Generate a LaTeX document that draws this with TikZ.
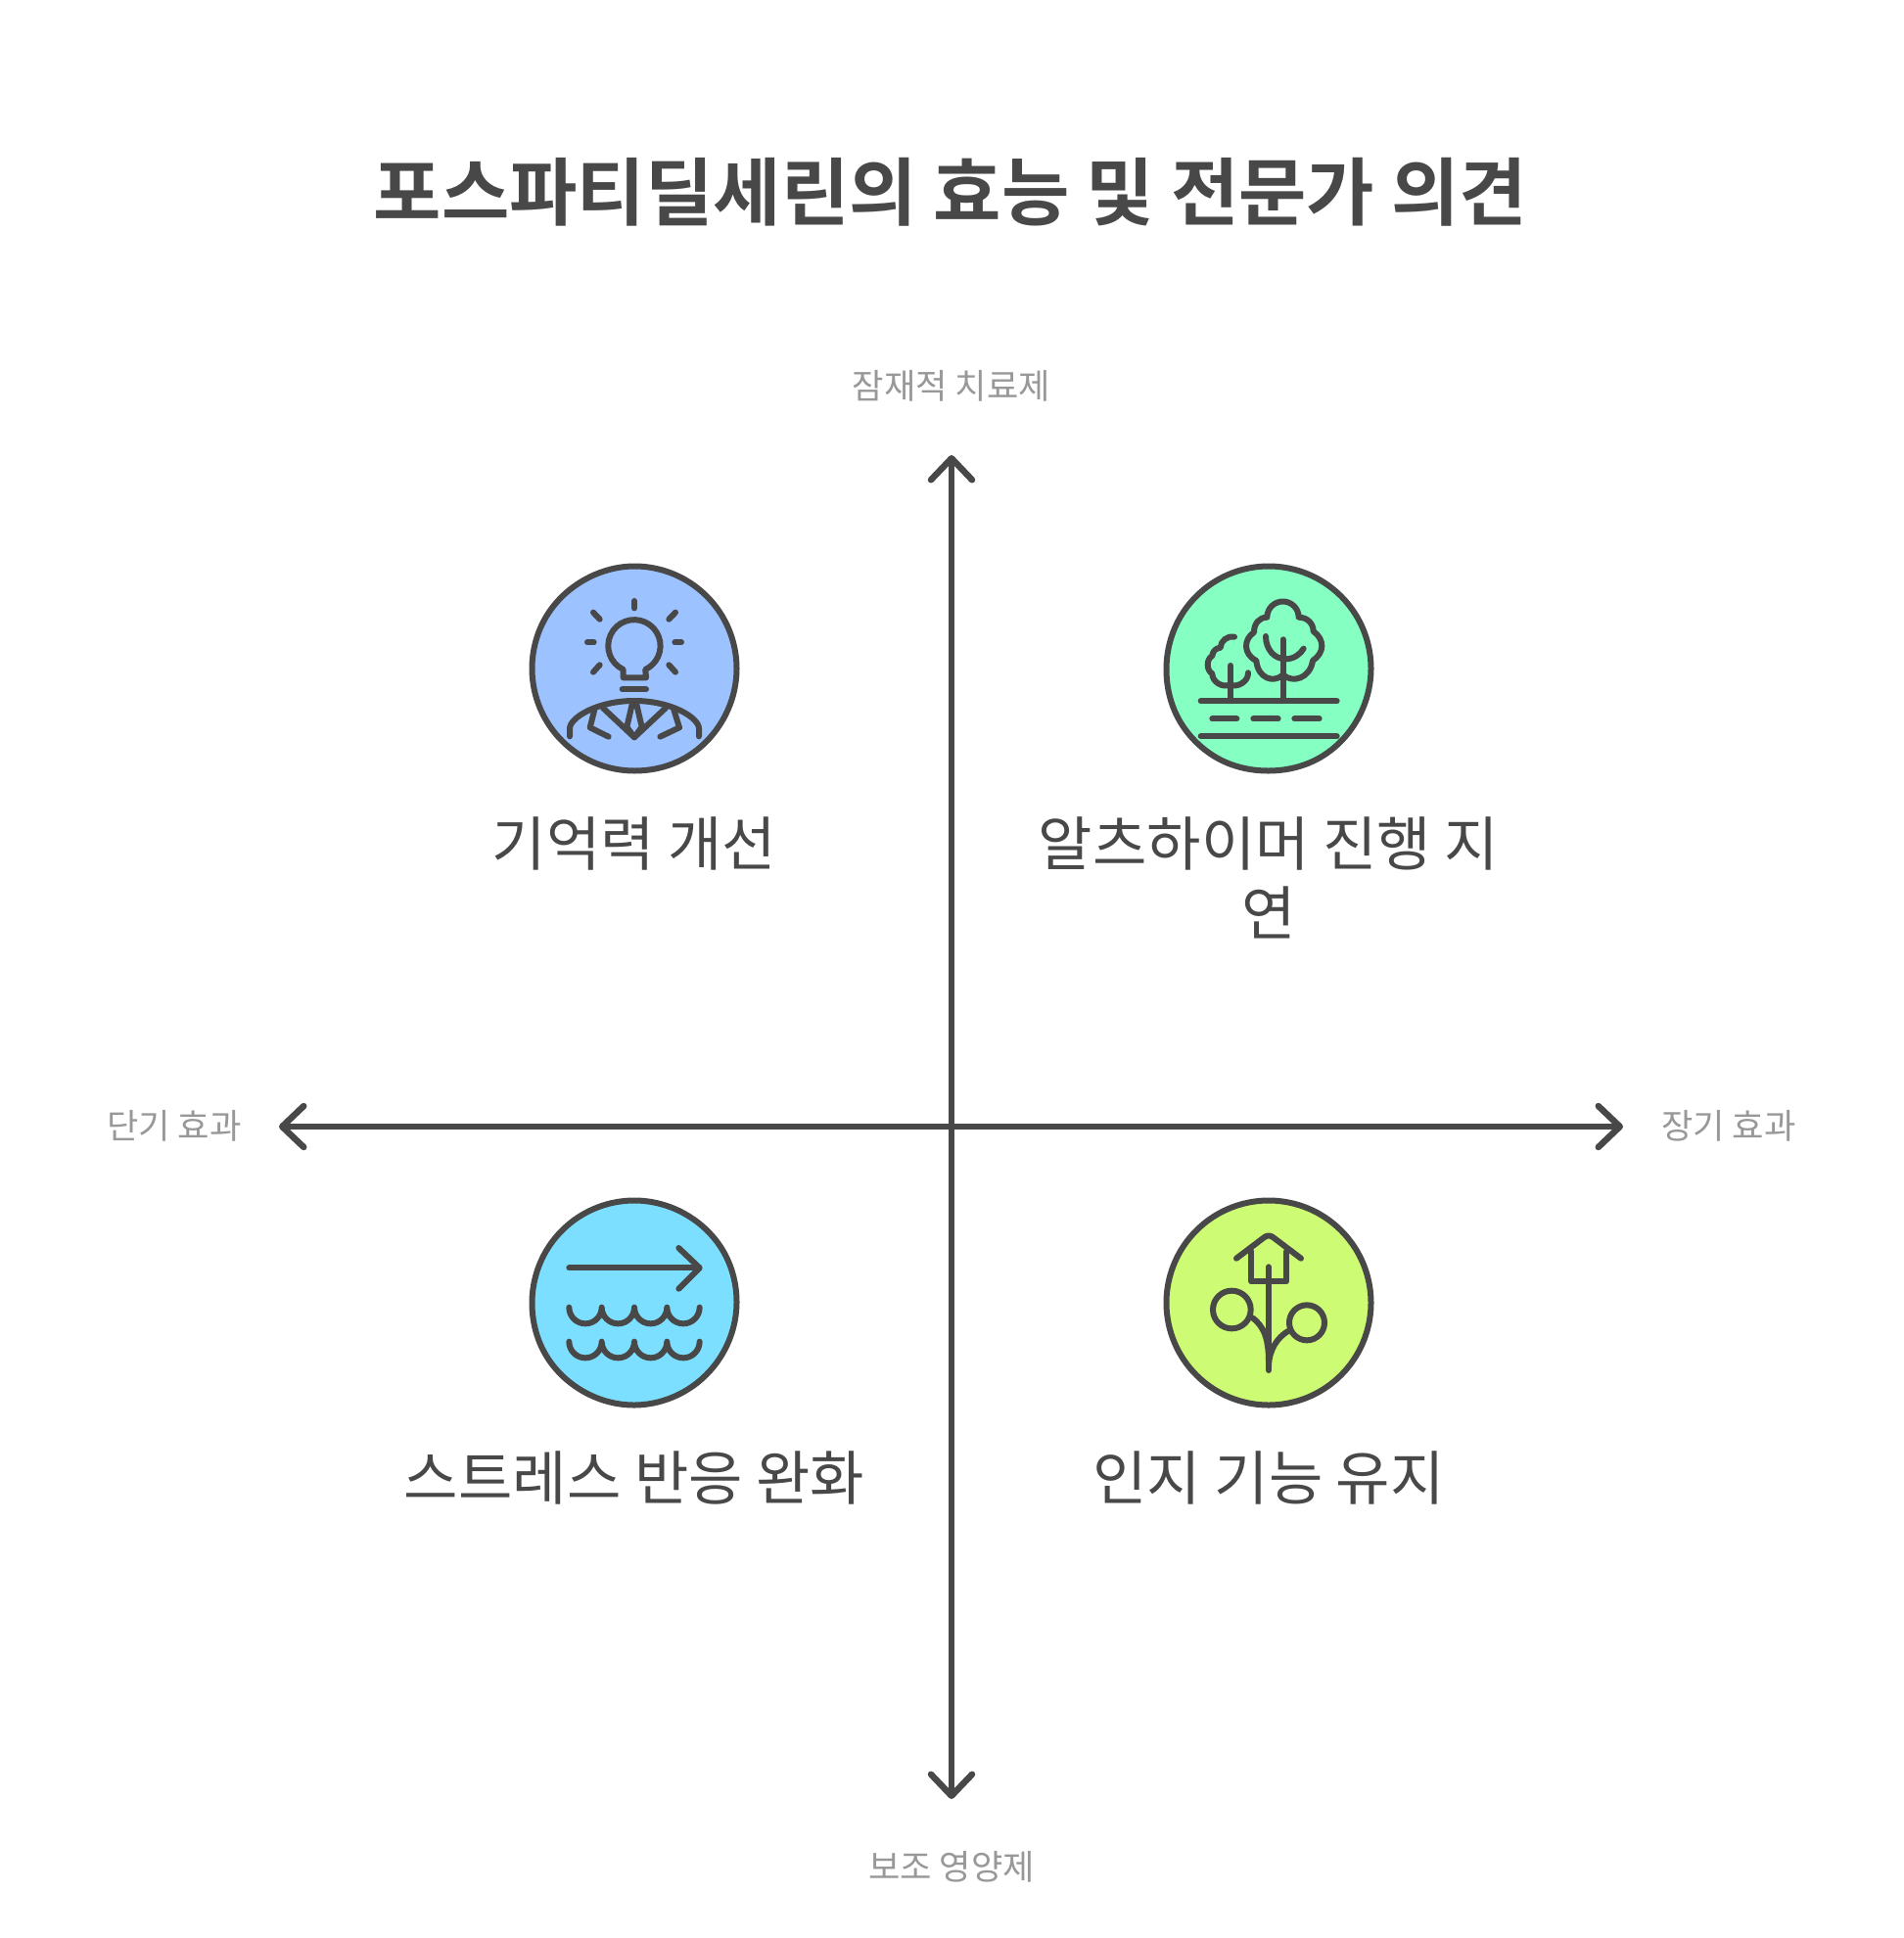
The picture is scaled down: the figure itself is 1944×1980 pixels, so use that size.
\documentclass[tikz,border=0pt]{standalone}
\usepackage{fontspec}
\setmainfont{Noto Sans CJK KR}
\newfontfamily\titlefont{Noto Sans CJK KR Bold}
\usetikzlibrary{arrows.meta}
\definecolor{ink}{HTML}{484848}
\definecolor{axistext}{HTML}{989898}
\definecolor{bluefill}{HTML}{9CC2FF}
\definecolor{greenfill}{HTML}{85FFC2}
\definecolor{skyfill}{HTML}{7DDFFF}
\definecolor{limefill}{HTML}{CEFB74}
\tikzset{
  badge/.style={draw=ink, line width=6pt, smooth cycle, tension=0.63},
  glyph/.style={draw=ink, line width=6pt, line cap=round, line join=round},
  axisline/.style={draw=ink, line width=6.5pt},
  axislabel/.style={text=axistext, font=\fontsize{35.2}{42}\selectfont},
  itemlabel/.style={text=ink, font=\fontsize{60.2}{71}\selectfont, align=center}
}
\begin{document}
\begin{tikzpicture}[x=1pt, y=-1pt, >={Straight Barb[length=22pt,width=42pt,round]}]
\useasboundingbox[fill=white] (0,0) rectangle (1944,1980);
\draw
  node at (971,196)[text=ink, font=\titlefont\fontsize{75.4}{90}\selectfont](title){포스파티딜세린의 효능 및 전문가 의견}
  node at (972,394)[axislabel](toplabel){잠재적 치료제}
  node at (972,1907)[axislabel](bottomlabel){보조 영양제}
  node at (178,1150)[axislabel](leftlabel){단기 효과}
  node at (1766,1150)[axislabel](rightlabel){장기 효과}
  node at (648,862)[itemlabel](memorylabel){기억력 개선}
  node at (1296,897)[itemlabel](delaylabel){알츠하이머 진행 지\\연}
  node at (648,1510)[itemlabel](stresslabel){스트레스 반응 완화}
  node at (1296,1510)[itemlabel](cognitionlabel){인지 기능 유지};
\coordinate (top) at (972,465);
\coordinate (bottom) at (972,1838);
\coordinate (left) at (285,1151);
\coordinate (right) at (1658,1151);
\draw[axisline,<->] (left) -- (right);
\draw[axisline,<->] (bottom) -- (top);
% memory
\draw[badge, fill=bluefill, shift={(648,683)}] plot coordinates {(0:104.5)(30:104.5)(60:105)(90:104.5)(120:104.5)(150:104.5)(180:104.5)(210:104.5)(240:104)(270:104.5)(300:104.5)(330:104.5)};
\begin{scope}[shift={(520,560)}, scale=1/3]
  \draw[glyph] (384,162) -- (384,184);
  \draw[glyph] (258,197) -- (278,218);
  \draw[glyph] (510,197) -- (490,218);
  \draw[glyph] (240,289) -- (260,289);
  \draw[glyph] (508,289) -- (528,289);
  \draw[glyph] (278,358) -- (258,380);
  \draw[glyph] (490,358) -- (510,380);
  \draw[glyph] (350,372) arc[start angle=115,end angle=425,radius=80] -- (420,397) -- (350,397) -- cycle;
  \draw[glyph] (347,433) -- (420,433);
  \draw[glyph] (186,577) -- (186,553) .. controls (186,520) and (270,468) .. (384,468) .. controls (498,468) and (582,520) .. (582,553) -- (582,577);
  \draw[glyph] (262,495) -- (248,550) -- (305,578);
  \draw[glyph] (505,495) -- (522,550) -- (463,578);
  \draw[glyph] (288,490) -- (384,580) -- (480,490);
  \draw[glyph] (378,475) -- (361,548) -- (384,580) -- (407,548) -- (390,475);
\end{scope}
% delay
\draw[badge, fill=greenfill, shift={(1296,683)}] plot coordinates {(0:104.5)(30:104.5)(60:105)(90:104.5)(120:105.5)(150:105.5)(180:104.5)(210:104.5)(240:104.5)(270:104.5)(300:104.5)(330:104.5)};
\begin{scope}[shift={(1175,560)}, scale=1/3]
  \draw[glyph] (155,469) -- (572,469);
  \draw[glyph] (155,577) -- (572,577);
  \draw[glyph] (190,523) -- (265,523);
  \draw[glyph] (316,523) -- (392,523);
  \draw[glyph] (442,523) -- (518,523);
  \draw[glyph] (407,280) -- (407,465);
  \draw[glyph] (354,270) .. controls (354,310) and (380,340) .. (415,340) .. controls (440,340) and (460,325) .. (470,308);
  \draw[glyph] (358,212) arc[start angle=180,end angle=360,radius=48.5] .. controls (480,212) and (500,230) .. (500,255) .. controls (535,280) and (535,320) .. (498,345) .. controls (490,400) and (435,415) .. (407,388) .. controls (379,415) and (330,400) .. (325,345) .. controls (285,325) and (285,280) .. (318,258) .. controls (318,230) and (335,212) .. (358,212) -- cycle;
  \draw[glyph] (246,360) -- (246,465);
  \draw[glyph] (258,272) to[bend right=50] (215,305) to[bend right=40] (190,330) to[bend right=60] (190,385) to[bend right=60] (245,418) to[bend right=60] (300,382);
\end{scope}
% stress
\draw[badge, fill=skyfill, shift={(648,1331)}] plot coordinates {(0:104.5)(30:104)(60:104)(90:104.5)(120:104.5)(150:105)(180:104.5)(210:104.5)(240:104.5)(270:104.5)(300:104.5)(330:105)};
\begin{scope}[shift={(520,1215)}, scale=1/3]
  \draw[glyph] (184,241) -- (582,241);
  \draw[glyph] (520,180) -- (584,241) -- (520,305);
  \foreach \rowy in {362,467}
    \draw[glyph] (184,\rowy) arc[start angle=180,end angle=0,radius=50] arc[start angle=180,end angle=0,radius=50] arc[start angle=180,end angle=0,radius=50] arc[start angle=180,end angle=0,radius=50];
\end{scope}
% cognition
\draw[badge, fill=limefill, shift={(1296,1331)}] plot coordinates {(0:104.5)(30:104.5)(60:104.5)(90:104.5)(120:104.5)(150:104.5)(180:104.5)(210:104.5)(240:104.5)(270:104.5)(300:104.5)(330:104.5)};
\begin{scope}[shift={(1175,1215)}, scale=1/3]
  \draw[glyph] (264,212) -- (350,147) .. controls (358,141) and (368,141) .. (376,147) -- (462,212);
  \draw[glyph] (310,190) -- (310,283) -- (418,283) -- (418,190);
  \draw[glyph] (363,238) -- (363,555);
  \draw[glyph] (250,369) circle[radius=58];
  \draw[glyph] (480,409) circle[radius=54];
  \draw[glyph] (315,395) .. controls (345,420) and (363,450) .. (363,530);
  \draw[glyph] (422,435) .. controls (390,455) and (365,490) .. (363,540);
\end{scope}
\end{tikzpicture}
\end{document}
